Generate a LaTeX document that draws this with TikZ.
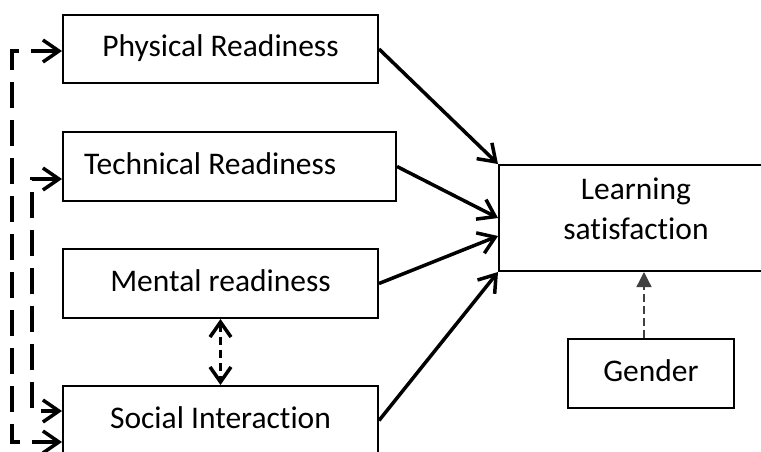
\documentclass[tikz,border=0pt]{standalone}
\usepackage{fontspec}
\setmainfont{Carlito}[Ligatures=NoCommon]
\usetikzlibrary{arrows.meta,calc}
\newcommand\diagfont{\fontsize{31.5}{40}\selectfont}
\tikzset{
  box/.style={draw, line width=2pt, inner sep=0pt, anchor=north west,
    text height=22pt, text depth=7pt, font=\diagfont},
  bigbox/.style={draw, line width=2pt, inner sep=0pt, anchor=north west,
    align=center, font=\diagfont, text depth=18pt},
  conn/.style={line width=3.5pt, -{Straight Barb[length=16pt,width=22pt]}},
  dlong/.style={line width=3.5pt, dash pattern=on 26pt off 12pt,
    {Straight Barb[length=16pt,width=22pt]}-{Straight Barb[length=16pt,width=22pt]}},
  dshort/.style={line width=3.5pt, dash pattern=on 8pt off 5pt,
    {Straight Barb[length=15pt,width=21pt]}-{Straight Barb[length=15pt,width=21pt]}},
  thindash/.style={line width=1.3pt, draw=black!75, dash pattern=on 8pt off 4pt,
    -{Triangle[length=15pt,width=15pt]}},
}
\begin{document}
\begin{tikzpicture}[x=1pt,y=-1pt]
\useasboundingbox (0,0) rectangle (761,451);
\clip (0,0) rectangle (761,451);
\node[box, minimum width=315pt, minimum height=68pt] (phys) at (62,14) {Physical Readiness};
\node[box, minimum width=333pt, minimum height=69pt, inner xsep=21pt] (tech) at (62,131) {\makebox[291pt][l]{Technical Readiness}};
\node[box, minimum width=315pt, minimum height=69pt] (ment) at (62,248) {Mental readiness};
\node[box, minimum width=315pt, minimum height=69pt] (soc) at (62,385) {Social Interaction};
\node[bigbox, minimum width=274pt, minimum height=106pt] (ls) at (498,164) {Learning\\satisfaction};
\node[box, minimum width=166pt, minimum height=69pt] (gen) at (567,338) {Gender};

\draw[conn] (phys.east) -- (ls.north west);
\draw[conn] (tech.east) -- (ls.west);
\draw[conn] (ment.east) -- ([yshift=-18pt]ls.west);
\draw[conn] (soc.east) -- (ls.south west);

\draw[dlong] ([yshift=-2pt]phys.west) -- ++(-50,0) |- ([yshift=-21.5pt]soc.west);
\draw[dlong] ([yshift=-12.5pt]tech.west) -- ++(-30,0) |- ([yshift=9.5pt]soc.west);
\draw[dshort] (ment.south) -- (soc.north);
\draw[thindash] ([xshift=-7pt]gen.north) -- ([xshift=-7pt]gen.north |- ls.south);
\end{tikzpicture}
\end{document}
